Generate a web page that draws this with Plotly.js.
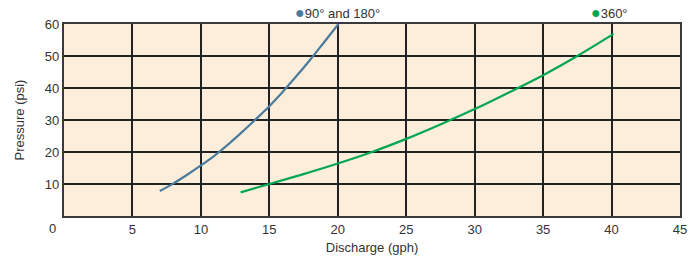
<!DOCTYPE html>
<html>
<head>
<meta charset="utf-8">
<script src="https://cdn.plot.ly/plotly-3.0.1.min.js"></script>
<style>html,body{margin:0;padding:0;background:#fff;}#chart{width:693px;height:259px;}</style>
</head>
<body>
<div id="chart"></div>
<script>
const blueX = [7.0, 8.0, 9.0, 10.0, 11.0, 12.0, 13.0, 14.0, 15.0, 16.0, 17.0, 18.0, 19.0, 20.05];
const blueY = [7.8, 10.2, 12.9, 15.8, 18.9, 22.4, 26.2, 30.2, 34.3, 38.9, 43.8, 48.9, 54.3, 60.0];
const greenX = [12.9, 15.0, 17.5, 20.0, 22.5, 25.0, 27.5, 30.0, 32.5, 35.0, 37.5, 40.15];
const greenY = [7.4, 10.0, 13.1, 16.4, 20.0, 24.1, 28.6, 33.4, 38.6, 44.0, 50.0, 56.9];
const xTicks = [5, 10, 15, 20, 25, 30, 35, 40, 45];
const yTicks = [10, 20, 30, 40, 50, 60];
const seriesNames = ["90° and 180°", "360°"];
const blueColor = "#4a7b9d";
const greenColor = "#00a651";

const traces = [
  {x: blueX, y: blueY, mode: "lines", line: {color: blueColor, width: 2.2, shape: "spline"}, name: seriesNames[0]},
  {x: greenX, y: greenY, mode: "lines", line: {color: greenColor, width: 2.2, shape: "spline"}, name: seriesNames[1]}
];

const font = {family: "Liberation Sans, Arial, sans-serif", size: 13, color: "#333"};

const layout = {
  width: 693, height: 259,
  margin: {l: 64, r: 13, t: 24, b: 43},
  paper_bgcolor: "#ffffff",
  plot_bgcolor: "#fdeedb",
  showlegend: false,
  font: font,
  xaxis: {
    range: [0, 45], tickvals: xTicks, ticktext: xTicks.map(String),
    showgrid: true, gridcolor: "#222222", gridwidth: 2,
    showline: true, mirror: true, linecolor: "#3a3a3a", linewidth: 2.2,
    zeroline: false, ticks: "", tickfont: font,
    title: {text: "Discharge (gph)", font: {family: font.family, size: 13, color: "#333"}, standoff: 7}
  },
  yaxis: {
    range: [0, 60], tickvals: yTicks, ticktext: yTicks.map(String),
    showgrid: true, gridcolor: "#222222", gridwidth: 2,
    showline: true, mirror: true, linecolor: "#3a3a3a", linewidth: 2.2,
    zeroline: false, ticks: "", tickfont: font,
    title: {text: "Pressure (psi)", font: {family: font.family, size: 13, color: "#333"}, standoff: 17}
  },
  annotations: [
    {xref: "paper", yref: "paper", x: -0.018, y: 0, yshift: -12, xanchor: "center", yanchor: "middle", text: "0", showarrow: false, font: font},
    {xref: "paper", yref: "paper", x: 0.371, y: 1, yshift: 12, xanchor: "left", yanchor: "middle", showarrow: false, font: font,
     text: "<span style='color:" + blueColor + ";font-size:16px'>●</span>" + seriesNames[0]},
    {xref: "paper", yref: "paper", x: 0.852, y: 1, yshift: 12, xanchor: "left", yanchor: "middle", showarrow: false, font: font,
     text: "<span style='color:" + greenColor + ";font-size:16px'>●</span>" + seriesNames[1]}
  ]
};

Plotly.newPlot("chart", traces, layout, {displayModeBar: false, staticPlot: true});
</script>
</body>
</html>
